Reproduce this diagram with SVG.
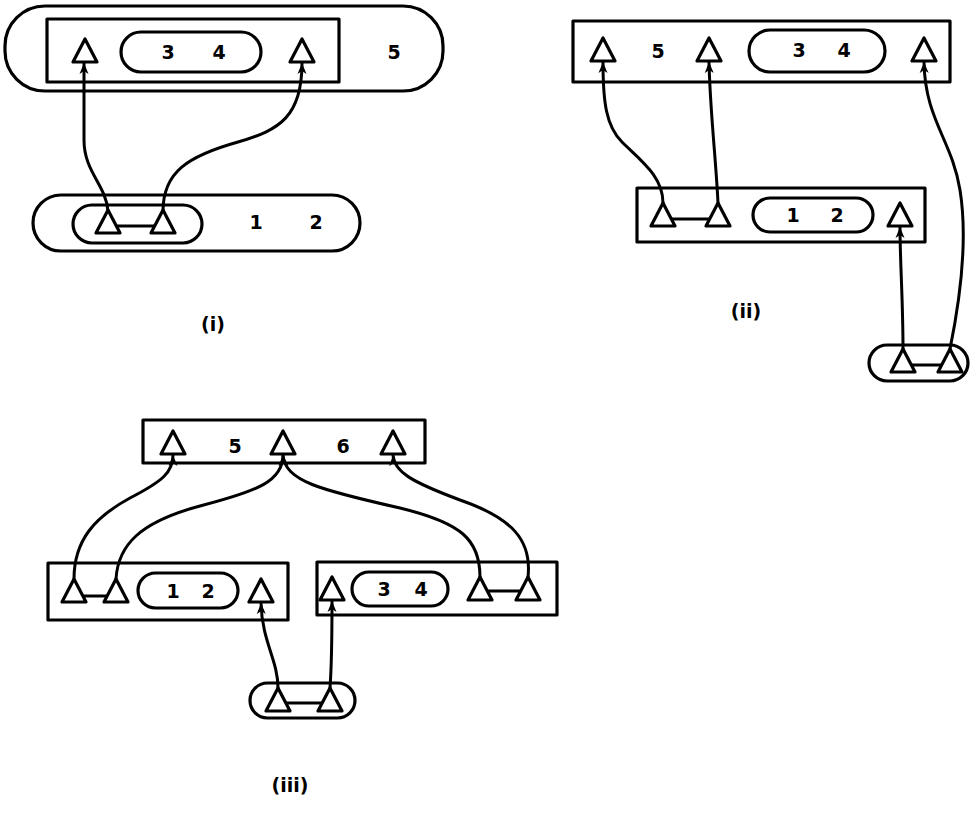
<svg xmlns="http://www.w3.org/2000/svg" xmlns:xlink="http://www.w3.org/1999/xlink" width="971" height="815" viewBox="0 0 971 815">
<style>
.box{fill:none;stroke:#000;stroke-width:3.2;stroke-linejoin:round}
.port{fill:#fff;stroke:#000;stroke-width:3.2;stroke-linejoin:round}
.wire{fill:none;stroke:#000;stroke-width:3;stroke-linecap:round}
.link{fill:none;stroke:#000;stroke-width:3}
.lbl{font-family:"DejaVu Sans","Liberation Sans",sans-serif;font-size:19px;font-weight:bold;fill:#000;text-anchor:middle}
</style>
<defs>
<polygon id="tri" points="0,-12 -12,11 12,11"/>
<marker id="ah" markerUnits="userSpaceOnUse" markerWidth="12" markerHeight="12" viewBox="0 0 12 12" refX="11" refY="6" orient="auto">
<path d="M0,1.5 L11,6 L0,10.5 L3,6 z" fill="#000"/>
</marker>
</defs>
<rect width="971" height="815" fill="#fff"/>

<!-- Panel (i) -->
<g id="i-outer5"><rect class="box" x="5" y="6" width="438" height="85" rx="40"/><text class="lbl" x="394" y="59">5</text></g>
<g id="i-box"><rect class="box" x="47" y="19" width="292" height="63"/></g>
<g id="i-pill34"><rect class="box" x="121" y="32" width="140" height="40" rx="20"/><text class="lbl" x="168" y="59">3</text><text class="lbl" x="219" y="59">4</text></g>
<g id="i-outer12"><rect class="box" x="33" y="195" width="327" height="56" rx="28"/><text class="lbl" x="256" y="229">1</text><text class="lbl" x="316" y="229">2</text></g>
<g id="i-pill"><rect class="box" x="73" y="205" width="129" height="38" rx="19"/></g>
<text class="lbl" x="213" y="331">(i)</text>

<!-- Panel (ii) -->
<g id="ii-top"><rect class="box" x="573" y="21" width="377" height="61"/><text class="lbl" x="658" y="58">5</text></g>
<g id="ii-pill34"><rect class="box" x="749" y="30" width="136" height="42" rx="21"/><text class="lbl" x="799" y="57">3</text><text class="lbl" x="844" y="57">4</text></g>
<g id="ii-mid"><rect class="box" x="637" y="188" width="288" height="54"/></g>
<g id="ii-pill12"><rect class="box" x="753" y="198" width="120" height="34" rx="17"/><text class="lbl" x="793" y="222">1</text><text class="lbl" x="837" y="222">2</text></g>
<g id="ii-bottom"><rect class="box" x="869" y="345" width="99" height="36" rx="18"/></g>
<text class="lbl" x="746" y="318">(ii)</text>

<!-- Panel (iii) -->
<g id="iii-top"><rect class="box" x="143" y="420" width="282" height="43"/><text class="lbl" x="235" y="453">5</text><text class="lbl" x="343" y="453">6</text></g>
<g id="iii-left"><rect class="box" x="48" y="563" width="240" height="57"/></g>
<g id="iii-pill12"><rect class="box" x="138" y="573" width="100" height="35" rx="17.5"/><text class="lbl" x="173" y="598">1</text><text class="lbl" x="208" y="598">2</text></g>
<g id="iii-right"><rect class="box" x="317" y="562" width="240" height="53"/></g>
<g id="iii-pill34"><rect class="box" x="352" y="572" width="96" height="34" rx="17"/><text class="lbl" x="384" y="596">3</text><text class="lbl" x="421" y="596">4</text></g>
<g id="iii-bottom"><rect class="box" x="250" y="683" width="105" height="35" rx="17.5"/></g>
<text class="lbl" x="290" y="792">(iii)</text>

<!-- Connectors -->
<g id="connectors">
<path class="wire" marker-end="url(#ah)" d="M108,211 C106,185 84,172 84,140 L84,63"/>
<path class="wire" marker-end="url(#ah)" d="M163,211 C163,172 188,156 238,142 C280,130 302,116 302,63"/>
<path class="link" d="M115,226 L156,226"/>

<path class="wire" marker-end="url(#ah)" d="M663,203 C663,176 640,160 622,142 C606,126 603,102 603,62"/>
<path class="wire" marker-end="url(#ah)" d="M718,203 C716,160 710,110 709,62"/>
<path class="link" d="M670,219 L711,219"/>
<path class="wire" marker-end="url(#ah)" d="M903,349 C903,300 900,262 900,227"/>
<path class="wire" marker-end="url(#ah)" d="M950,349 C960,300 968,240 960,190 C952,140 925,120 924,62"/>
<path class="link" d="M910,365 L943,365"/>

<path class="wire" marker-end="url(#ah)" d="M74,579 C74,540 95,517 130,498 C163,481 173,472 173,455"/>
<path class="wire" marker-end="url(#ah)" d="M116,579 C118,545 140,522 200,506 C258,491 283,481 283,455"/>
<path class="wire" marker-end="url(#ah)" d="M480,577 C480,540 462,523 400,508 C320,490 285,481 283,455"/>
<path class="wire" marker-end="url(#ah)" d="M528,577 C532,540 512,518 460,500 C412,482 394,472 393,455"/>
<path class="link" d="M81,596 L108,596"/>
<path class="link" d="M487,591 L521,591"/>
<path class="wire" marker-end="url(#ah)" d="M278,688 C278,660 262,642 261,603"/>
<path class="wire" marker-end="url(#ah)" d="M330,688 C332,660 332,630 332,601"/>
<path class="link" d="M285,703 L323,703"/>
</g>

<!-- Ports -->
<g id="ports">
<g id="i-p1"><use xlink:href="#tri" class="port" x="85" y="51"/></g>
<g id="i-p2"><use xlink:href="#tri" class="port" x="302" y="51"/></g>
<g id="i-p3"><use xlink:href="#tri" class="port" x="108" y="222"/></g>
<g id="i-p4"><use xlink:href="#tri" class="port" x="163" y="222"/></g>
<g id="ii-p1"><use xlink:href="#tri" class="port" x="603" y="50"/></g>
<g id="ii-p2"><use xlink:href="#tri" class="port" x="709" y="50"/></g>
<g id="ii-p3"><use xlink:href="#tri" class="port" x="924" y="50"/></g>
<g id="ii-p4"><use xlink:href="#tri" class="port" x="663" y="215"/></g>
<g id="ii-p5"><use xlink:href="#tri" class="port" x="718" y="215"/></g>
<g id="ii-p6"><use xlink:href="#tri" class="port" x="900" y="215"/></g>
<g id="ii-p7"><use xlink:href="#tri" class="port" x="903" y="361"/></g>
<g id="ii-p8"><use xlink:href="#tri" class="port" x="950" y="361"/></g>
<g id="iii-p1"><use xlink:href="#tri" class="port" x="173" y="443"/></g>
<g id="iii-p2"><use xlink:href="#tri" class="port" x="283" y="443"/></g>
<g id="iii-p3"><use xlink:href="#tri" class="port" x="393" y="443"/></g>
<g id="iii-p4"><use xlink:href="#tri" class="port" x="74" y="591"/></g>
<g id="iii-p5"><use xlink:href="#tri" class="port" x="116" y="591"/></g>
<g id="iii-p6"><use xlink:href="#tri" class="port" x="261" y="591"/></g>
<g id="iii-p7"><use xlink:href="#tri" class="port" x="332" y="589"/></g>
<g id="iii-p8"><use xlink:href="#tri" class="port" x="480" y="589"/></g>
<g id="iii-p9"><use xlink:href="#tri" class="port" x="528" y="589"/></g>
<g id="iii-p10"><use xlink:href="#tri" class="port" x="278" y="700"/></g>
<g id="iii-p11"><use xlink:href="#tri" class="port" x="330" y="700"/></g>
</g>
</svg>
